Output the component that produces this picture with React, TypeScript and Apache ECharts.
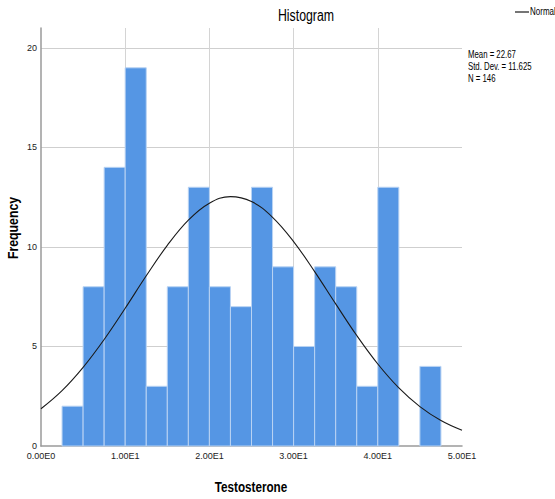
import React, { useEffect, useRef } from "react";
import * as echarts from "echarts";

const binStarts = [2.5, 5, 7.5, 10, 12.5, 15, 17.5, 20, 22.5, 25, 27.5, 30, 32.5, 35, 37.5, 40, 42.5, 45];
const binCounts = [2, 8, 14, 19, 3, 8, 13, 8, 7, 13, 9, 5, 9, 8, 3, 13, 0, 4];
const binWidth = 2.5;

const curveX = [0, 2.5, 5, 7.5, 10, 12.5, 15, 17.5, 20, 22.5, 25, 27.5, 30, 32.5, 35, 37.5, 40, 42.5, 45, 47.5, 50];
const curveY = [1.87, 2.78, 3.95, 5.35, 6.92, 8.55, 10.08, 11.35, 12.2, 12.53, 12.28, 11.49, 10.27, 8.76, 7.14, 5.55, 4.12, 2.92, 1.98, 1.28, 0.79];

const xTickLabels: Record<number, string> = { 0: "0.00E0", 10: "1.00E1", 20: "2.00E1", 30: "3.00E1", 40: "4.00E1", 50: "5.00E1" };
const statsLines = ["Mean = 22.67", "Std. Dev. = 11.625", "N = 146"];
const titleText = "Histogram";
const xName = "Testosterone";
const yName = "Frequency";
const legendName = "Normal";

const FONT = "'Liberation Sans', Arial, sans-serif";

export default function App() {
  const ref = useRef<HTMLDivElement>(null);
  useEffect(() => {
    if (!ref.current) return;
    const chart = echarts.init(ref.current, undefined, { renderer: "svg" });
    const barData = binStarts.map((s, i) => [s, s + binWidth, binCounts[i]]);
    chart.setOption({
      animation: false,
      backgroundColor: "#ffffff",
      grid: { left: 41, right: 93, top: 28, bottom: 53, outerBoundsMode: "none", containLabel: false },
      xAxis: {
        type: "value",
        min: 0,
        max: 50,
        interval: 10,
        axisLine: { show: true, lineStyle: { color: "#9a9a9a", width: 1.5 } },
        axisTick: { show: false },
        axisLabel: {
          fontFamily: FONT,
          fontSize: 9,
          color: "#222",
          margin: 5,
          formatter: (v: number) => xTickLabels[v] ?? "",
        },
        splitLine: { show: true, lineStyle: { color: "#d4d4d4", width: 1 }, showMinLine: false, showMaxLine: false },
      },
      yAxis: {
        type: "value",
        min: 0,
        max: 21,
        interval: 5,
        axisLine: { show: true, lineStyle: { color: "#9a9a9a", width: 1.5 } },
        axisTick: { show: false },
        axisLabel: {
          fontFamily: FONT,
          fontSize: 9,
          color: "#222",
          margin: 4,
          formatter: (v: number) => (v % 5 === 0 ? String(v) : ""),
        },
        splitLine: { show: true, lineStyle: { color: "#cfcfcf", width: 1 }, showMinLine: false, showMaxLine: false },
      },
      series: [
        {
          type: "custom",
          name: "bars",
          data: barData,
          encode: { x: [0, 1], y: 2 },
          renderItem: (params: any, api: any) => {
            const x0 = api.value(0);
            const x1 = api.value(1);
            const c = api.value(2);
            if (!c) return null;
            const p0 = api.coord([x0, c]);
            const p1 = api.coord([x1, 0]);
            return {
              type: "rect",
              shape: { x: p0[0], y: p0[1], width: p1[0] - p0[0], height: p1[1] - p0[1] },
              style: { fill: "#5596e4", stroke: "#b9d3f3", lineWidth: 1 },
            };
          },
          z: 2,
        },
        {
          type: "line",
          name: legendName,
          data: curveX.map((x, i) => [x, curveY[i]]),
          smooth: 0.4,
          showSymbol: false,
          symbol: "none",
          lineStyle: { color: "#1a1a1a", width: 1.1 },
          itemStyle: { color: "#1a1a1a" },
          z: 3,
        },
      ],
      graphic: [
        {
          type: "text",
          x: 306,
          y: 15,
          scaleX: 0.77,
          style: {
            text: titleText,
            fontFamily: FONT,
            fontSize: 16,
            fill: "#000",
            align: "center",
            verticalAlign: "middle",
          },
        },
        {
          type: "text",
          x: 251,
          y: 487,
          scaleX: 0.78,
          style: {
            text: xName,
            fontFamily: FONT,
            fontSize: 15,
            fontWeight: "bold",
            fill: "#000",
            align: "center",
            verticalAlign: "middle",
          },
        },
        {
          type: "text",
          x: 13,
          y: 228,
          rotation: Math.PI / 2,
          scaleX: 0.82,
          style: {
            text: yName,
            fontFamily: FONT,
            fontSize: 15,
            fontWeight: "bold",
            fill: "#000",
            align: "center",
            verticalAlign: "middle",
          },
        },
        {
          type: "line",
          shape: { x1: 515, y1: 12, x2: 529, y2: 12 },
          style: { stroke: "#1a1a1a", lineWidth: 1.2 },
        },
        {
          type: "text",
          x: 530,
          y: 12,
          scaleX: 0.8,
          style: {
            text: legendName,
            fontFamily: FONT,
            fontSize: 10,
            fill: "#000",
            align: "left",
            verticalAlign: "middle",
          },
        },
        {
          type: "text",
          x: 468,
          y: 49,
          scaleX: 0.78,
          style: {
            text: statsLines.join("\n"),
            fontFamily: FONT,
            fontSize: 10,
            lineHeight: 12,
            fill: "#000",
            align: "left",
            verticalAlign: "top",
          },
        },
      ],
    });
    return () => chart.dispose();
  }, []);
  return <div ref={ref} style={{ position: "absolute", left: 0, top: 0, width: 555, height: 499 }} />;
}
